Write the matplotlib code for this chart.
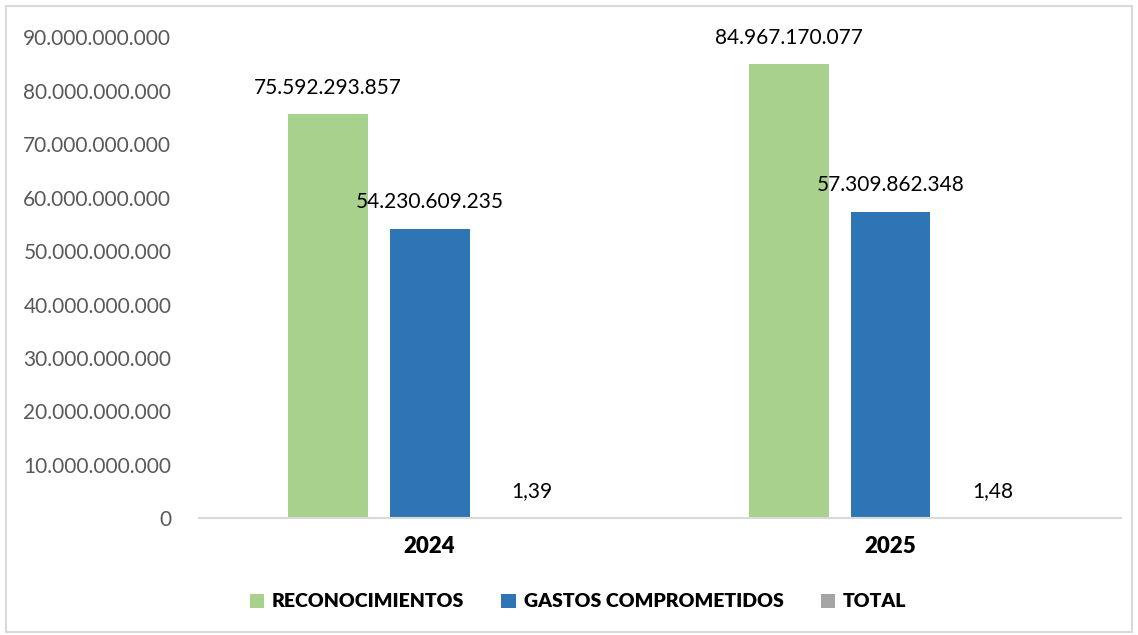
import numpy as np
import matplotlib.pyplot as plt
from matplotlib.patches import Rectangle
from matplotlib.ticker import FuncFormatter

plt.rcParams['font.family'] = ['Lato', 'DejaVu Sans']

years = ["2024", "2025"]
series = ["RECONOCIMIENTOS", "GASTOS COMPROMETIDOS", "TOTAL"]
reconocimientos = [75592293857, 84967170077]
gastos = [54230609235, 57309862348]
total = [1.39, 1.48]
colors = ["#a9d18e", "#2e75b6", "#a5a5a5"]


def fmt_es(v, decimals=0):
    s = f"{v:,.{decimals}f}"
    return s.replace(",", "X").replace(".", ",").replace("X", ".")


fig = plt.figure(figsize=(11.38, 6.35), dpi=100)
fig.patches.append(Rectangle((0.005, 0.005), 0.99, 0.985, transform=fig.transFigure,
                             fill=False, edgecolor="#d9d9d9", linewidth=1.5))
ax = fig.add_axes([0.175, 0.184, 0.810, 0.757])

x = np.arange(len(years))
w = 0.1735
step = 0.221
values = [reconocimientos, gastos, total]
for i, (name, vals, col) in enumerate(zip(series, values, colors)):
    pos = x + (i - 1) * step
    bars = ax.bar(pos, vals, width=w, color=col, label=name)
    for b, v in zip(bars, vals):
        label = fmt_es(v, 2) if v < 100 else fmt_es(v)
        ax.annotate(label, (b.get_x() + b.get_width() / 2, v),
                    xytext=(0, 12), textcoords="offset points",
                    ha="center", va="bottom", fontsize=15, color="#000000")

ax.set_xlim(-0.5, 1.5)
ax.set_ylim(0, 90e9)
ax.set_yticks(np.arange(0, 90e9 + 1, 10e9))
ax.yaxis.set_major_formatter(FuncFormatter(lambda v, p: fmt_es(v)))
ax.set_xticks(x)
ax.set_xticklabels(years, fontsize=16, fontweight="heavy")
ax.tick_params(axis="y", length=0, labelsize=15, labelcolor="#595959", pad=20)
ax.tick_params(axis="x", length=0, pad=13)
for side in ["top", "right", "left"]:
    ax.spines[side].set_visible(False)
ax.spines["bottom"].set_color("#d9d9d9")
ax.spines["bottom"].set_linewidth(1.5)

leg = fig.legend(loc="center", bbox_to_anchor=(0.508, 0.052), ncol=3, frameon=False,
                 prop={"size": 14, "weight": "heavy"}, handlelength=0.75, handleheight=0.75,
                 handletextpad=0.4, columnspacing=1.9)

fig.savefig("out.png", dpi=100)
